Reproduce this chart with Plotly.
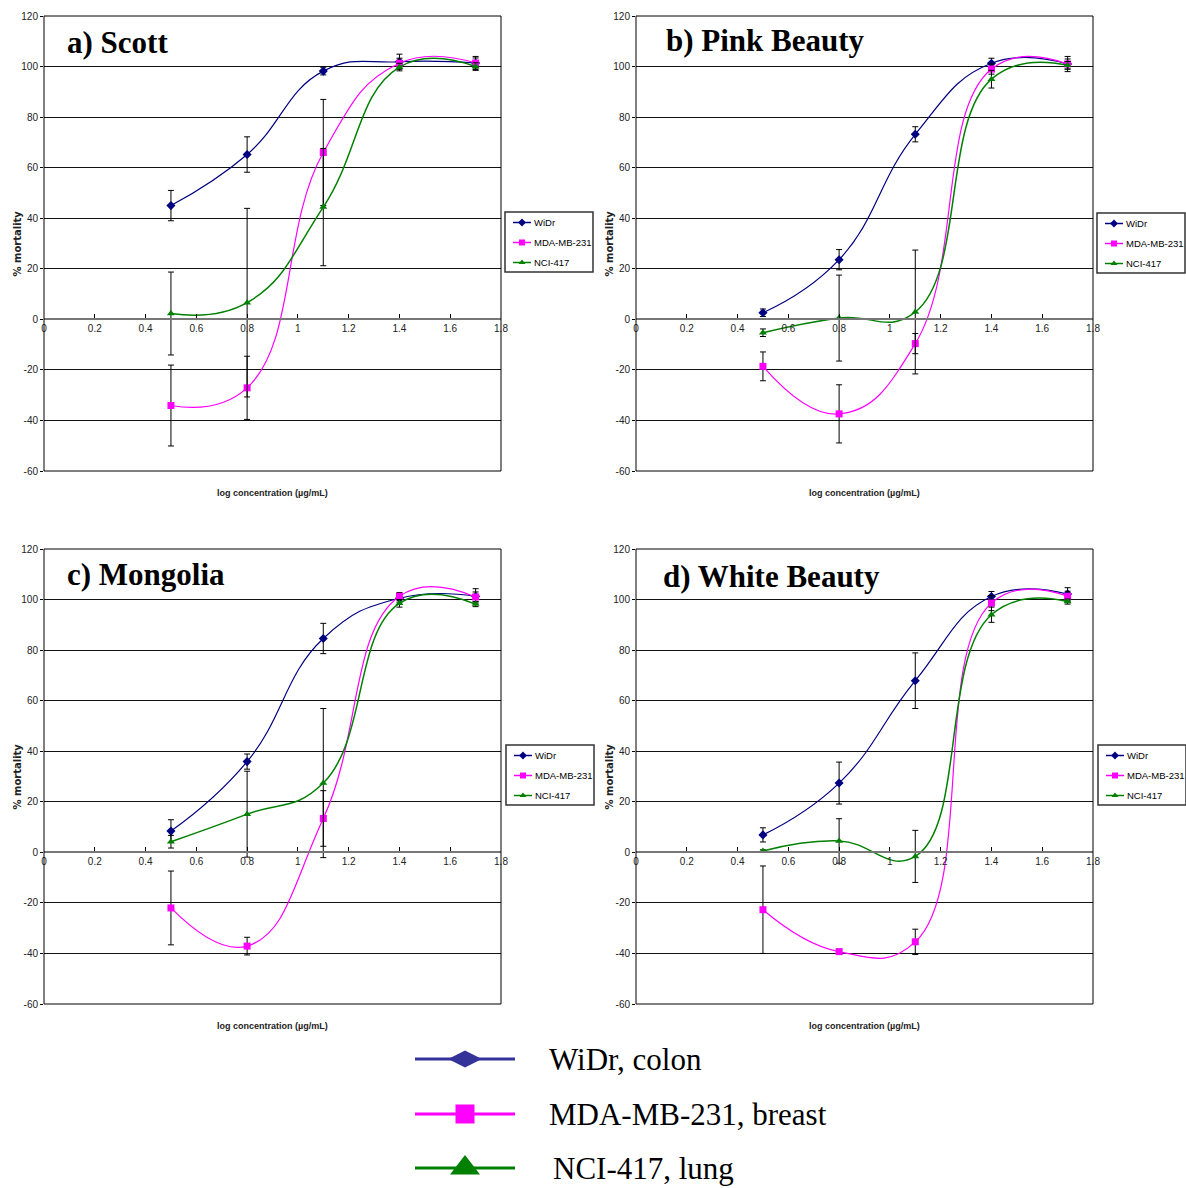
import plotly.graph_objects as go

# ---------------- data ----------------
log_conc = [0.5, 0.8, 1.1, 1.4, 1.7]

scott_widr = [45.0, 65.2, 98.2, 101.9, 101.4]
scott_widr_err = [6.0, 7.0, 1.5, 3.0, 2.6]
scott_mda = [-34.1, -27.1, 66.0, 101.3, 101.4]
scott_mda_err = [16.0, 12.5, 21.0, 2.0, 2.0]
scott_nci = [2.3, 6.6, 44.4, 99.8, 100.0]
scott_nci_err = [16.4, 37.3, 23.2, 1.5, 1.5]

pink_widr = [2.6, 23.6, 73.2, 101.3, 101.0]
pink_widr_err = [1.5, 4.0, 3.0, 2.0, 3.0]
pink_mda = [-18.6, -37.4, -9.6, 99.0, 101.0]
pink_mda_err = [5.7, 11.5, 4.0, 2.0, 2.0]
pink_nci = [-5.3, 0.5, 2.9, 95.0, 100.5]
pink_nci_err = [1.5, 17.0, 24.5, 3.5, 1.5]

mongolia_widr = [8.4, 35.9, 84.6, 100.5, 101.3]
mongolia_widr_err = [4.5, 3.0, 6.0, 1.5, 3.0]
mongolia_mda = [-22.0, -37.1, 13.4, 101.3, 101.0]
mongolia_mda_err = [14.6, 3.5, 11.0, 1.5, 2.0]
mongolia_nci = [4.2, 15.1, 27.4, 98.5, 98.2]
mongolia_nci_err = [2.5, 17.0, 29.5, 1.5, 1.0]

white_widr = [6.9, 27.4, 67.9, 101.2, 102.2]
white_widr_err = [2.8, 8.3, 11.0, 2.0, 2.5]
white_mda = [-22.7, -39.3, -35.4, 98.6, 101.3]
white_mda_err = [17.3, 1.0, 5.0, 3.0, 2.0]
white_nci = [0.5, 4.5, -1.6, 94.0, 99.2]
white_nci_err = [0.5, 8.8, 10.3, 3.0, 1.0]

series_names = ["WiDr", "MDA-MB-231", "NCI-417"]
big_legend_labels = ["WiDr, colon", "MDA-MB-231, breast", "NCI-417, lung"]
panel_titles = ["a) Scott", "b) Pink Beauty", "c) Mongolia", "d) White Beauty"]

y_tickvals = [-60, -40, -20, 0, 20, 40, 60, 80, 100, 120]
y_ticktext = ["-60", "-40", "-20", "0", "20", "40", "60", "80", "100", "120"]
x_tickvals = [0, 0.2, 0.4, 0.6, 0.8, 1.0, 1.2, 1.4, 1.6, 1.8]
x_ticktext = ["0", "0.2", "0.4", "0.6", "0.8", "1", "1.2", "1.4", "1.6", "1.8"]

x_title = "log concentration (µg/mL)"
y_title = "% mortality"

# ---------------- styles ----------------
W, H = 1186, 1188
SANS = "Liberation Sans, Arial, sans-serif"
WIDE = "DejaVu Sans, sans-serif"
SERIF = "Liberation Serif, Times New Roman, serif"

line_colors = ["#000080", "#FF00FF", "#008000"]
big_line_colors = ["#333399", "#FF00FF", "#008000"]
symbols = ["diamond", "square", "triangle-up"]
line_widths = [1.2, 1.2, 1.5]


def px_x(p):
    return p / W


def px_y(p):
    return 1 - p / H


panels = [
    dict(vals=(scott_widr, scott_mda, scott_nci),
         errs=(scott_widr_err, scott_mda_err, scott_nci_err),
         x0=44, x1=501, y0=16, y1=471, tx=65, ty=42, lx=505, ly=212),
    dict(vals=(pink_widr, pink_mda, pink_nci),
         errs=(pink_widr_err, pink_mda_err, pink_nci_err),
         x0=636, x1=1093, y0=16, y1=471, tx=664, ty=41, lx=1097, ly=213),
    dict(vals=(mongolia_widr, mongolia_mda, mongolia_nci),
         errs=(mongolia_widr_err, mongolia_mda_err, mongolia_nci_err),
         x0=44, x1=501, y0=549, y1=1004, tx=65, ty=574, lx=506, ly=745),
    dict(vals=(white_widr, white_mda, white_nci),
         errs=(white_widr_err, white_mda_err, white_nci_err),
         x0=636, x1=1093, y0=549, y1=1004, tx=661, ty=576, lx=1098, ly=745),
]

fig = go.Figure()
annotations = []
shapes = []
layout_axes = {}

for i, p in enumerate(panels, start=1):
    sfx = "" if i == 1 else str(i)
    xa, ya = "x" + sfx, "y" + sfx
    xd = [px_x(p["x0"]), px_x(p["x1"])]
    yd = [px_y(p["y1"]), px_y(p["y0"])]

    for k in range(3):
        fig.add_trace(go.Scatter(
            x=log_conc, y=p["vals"][k], name=series_names[k],
            mode="lines+markers",
            line=dict(color=line_colors[k], width=line_widths[k], shape="spline", smoothing=1.3),
            marker=dict(symbol=symbols[k], size=7, color=line_colors[k]),
            error_y=dict(type="data", array=p["errs"][k], color="black", thickness=1, width=3),
            xaxis=xa, yaxis=ya, showlegend=False,
        ))

    zero_pos = yd[0] + (0 - (-60)) / 180 * (yd[1] - yd[0])
    layout_axes["xaxis" + sfx] = dict(
        domain=xd, range=[0, 1.8], anchor="free", position=zero_pos,
        tickvals=x_tickvals, ticktext=x_ticktext, ticks="inside", ticklen=4,
        tickcolor="black", showgrid=False, zeroline=False, showline=True,
        linecolor="#777777", linewidth=2, ticklabelstandoff=0,
        tickfont=dict(family=SANS, size=10, color="#222222"),
    )
    layout_axes["yaxis" + sfx] = dict(
        domain=yd, range=[-60, 120], anchor=xa,
        tickvals=y_tickvals, ticktext=y_ticktext, ticks="outside", ticklen=3,
        tickcolor="black", showgrid=True, gridcolor="#111111", gridwidth=1,
        zeroline=False, showline=False,
        tickfont=dict(family=SANS, size=10, color="#222222"),
    )
    shapes.append(dict(type="rect", xref=xa + " domain", yref=ya + " domain",
                       x0=0, x1=1, y0=0, y1=1, line=dict(color="black", width=1)))
    annotations.append(dict(
        text="<b>" + panel_titles[i - 1] + "</b>", xref="paper", yref="paper",
        x=px_x(p["tx"]), y=px_y(p["ty"]), xanchor="left", yanchor="middle",
        showarrow=False, font=dict(family=SERIF, size=31, color="black")))
    annotations.append(dict(
        text="<b>" + y_title + "</b>", xref=xa + " domain", yref=ya + " domain",
        x=-0.059, y=0.5, xanchor="center", yanchor="middle", textangle=-90,
        showarrow=False, font=dict(family=WIDE, size=10, color="#222222")))
    annotations.append(dict(
        text="<b>" + x_title + "</b>", xref=xa + " domain", yref=ya + " domain",
        x=0.5, y=-0.048, xanchor="center", yanchor="middle",
        showarrow=False, font=dict(family=SANS, size=9, color="#222222")))

# ---------------- legend keys (drawn on a full-figure pixel overlay axis) ----------------
LEG_W, LEG_H = 88, 60
leg_row_off = [10.5, 30.5, 50.5]
for k in range(3):
    lx_line, ly_line, mx, my = [], [], [], []
    for p in panels:
        r = p["ly"] + leg_row_off[k]
        lx_line += [p["lx"] + 8, p["lx"] + 26, None]
        ly_line += [r, r, None]
        mx.append(p["lx"] + 17)
        my.append(r)
        annotations.append(dict(
            text=series_names[k], xref="paper", yref="paper",
            x=px_x(p["lx"] + 27), y=px_y(r), xanchor="left", yanchor="middle",
            showarrow=False, font=dict(family=SANS, size=9.5, color="black")))
    fig.add_trace(go.Scatter(x=lx_line, y=ly_line, mode="lines",
                             line=dict(color=line_colors[k], width=1.5),
                             xaxis="x5", yaxis="y5", showlegend=False, hoverinfo="skip"))
    fig.add_trace(go.Scatter(x=mx, y=my, mode="markers",
                             marker=dict(symbol=symbols[k], size=6, color=line_colors[k]),
                             xaxis="x5", yaxis="y5", showlegend=False, hoverinfo="skip"))
for p in panels:
    shapes.append(dict(type="rect", xref="paper", yref="paper",
                       x0=px_x(p["lx"]), x1=px_x(p["lx"] + LEG_W),
                       y0=px_y(p["ly"] + LEG_H), y1=px_y(p["ly"]),
                       line=dict(color="#333333", width=1.5)))

# ---------------- big legend at bottom ----------------
key_rows = [1059, 1114, 1168]
key_sizes = [24, 19, 26]
key_symbols = ["diamond-wide", "square", "triangle-up"]
for k in range(3):
    fig.add_trace(go.Scatter(
        x=[415, 515], y=[key_rows[k], key_rows[k]], mode="lines",
        line=dict(color=big_line_colors[k], width=3), xaxis="x5", yaxis="y5",
        showlegend=False, hoverinfo="skip"))
    fig.add_trace(go.Scatter(
        x=[465], y=[key_rows[k]], mode="markers",
        marker=dict(symbol=key_symbols[k], size=key_sizes[k], color=big_line_colors[k]),
        xaxis="x5", yaxis="y5", showlegend=False, hoverinfo="skip"))
    annotations.append(dict(
        text=big_legend_labels[k], xref="paper", yref="paper",
        x=px_x(547 if k < 2 else 551), y=px_y(key_rows[k]),
        xanchor="left", yanchor="middle", showarrow=False,
        font=dict(family=SERIF, size=31, color="black")))

layout_axes["xaxis5"] = dict(domain=[0, 1], range=[0, W], visible=False,
                             anchor="y5", fixedrange=True)
layout_axes["yaxis5"] = dict(domain=[0, 1], range=[H, 0],
                             visible=False, anchor="x5", fixedrange=True)

fig.update_layout(
    width=W, height=H, autosize=False,
    margin=dict(l=0, r=0, t=0, b=0, autoexpand=False),
    paper_bgcolor="white", plot_bgcolor="rgba(0,0,0,0)",
    showlegend=False,
    annotations=annotations, shapes=shapes,
    **layout_axes,
)

fig.write_html("out.html", post_script="document.body.style.margin='0';",
               config={"displayModeBar": False})
